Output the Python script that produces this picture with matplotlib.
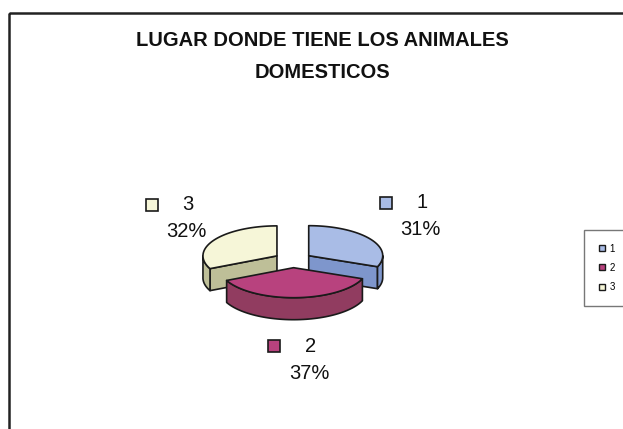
import numpy as np
import matplotlib
matplotlib.use('Agg')
import matplotlib.pyplot as plt
from matplotlib.patches import Polygon, Rectangle
from matplotlib.lines import Line2D

# datos del grafico
categorias = ['1', '2', '3']
porcentajes = [31, 37, 32]
titulo = ['LUGAR DONDE TIENE LOS ANIMALES', 'DOMESTICOS']

color_sup = ['#a9bce6', '#b8427e', '#f6f6d8']
color_lado = ['#7e96cc', '#913c60', '#bebf98']
borde = '#1a1a1a'

plt.rcParams['font.family'] = ['Liberation Sans', 'DejaVu Sans']

fig = plt.figure(figsize=(6.23, 4.29), dpi=100)
ax = fig.add_axes([0, 0, 1, 1])
ax.set_xlim(0, 623)
ax.set_ylim(429, 0)
ax.axis('off')

# marco del area del grafico
ax.add_patch(Rectangle((9, 13), 700, 500, fill=False, lw=1.8,
                       edgecolor='#222222', clip_on=True))

# geometria del pastel 3D (pixeles)
cx, cy = 293, 260
rx, ry = 74, 30
alto = 22
separa = 19


def punto(t, ox, oy, r=1.0, dy=0.0):
    return (cx + ox + rx * r * np.sin(t), cy + oy - ry * r * np.cos(t) + dy)


fr = np.array(porcentajes, dtype=float) / sum(porcentajes)
limites = np.concatenate([[0], np.cumsum(fr)]) * 2 * np.pi

rebanadas = []
for i in range(len(categorias)):
    t0, t1 = limites[i], limites[i + 1]
    tm = (t0 + t1) / 2
    ox = separa * np.sin(tm)
    oy = -separa * (ry / rx) * np.cos(tm)
    rebanadas.append((i, t0, t1, tm, ox, oy))

# dibujar primero las rebanadas del fondo
orden = sorted(rebanadas, key=lambda s: -np.cos(s[3]))

for i, t0, t1, tm, ox, oy in orden:
    ts = np.linspace(t0, t1, 80)
    apice = np.array([cx + ox, cy + oy])
    arco = np.array([punto(t, ox, oy) for t in ts])
    sup = np.vstack([apice, arco])
    centro = sup.mean(axis=0)

    caras = []
    # caras radiales
    for p in (arco[0], arco[-1]):
        d = p - apice
        n = np.array([d[1], -d[0]])
        mid = (p + apice) / 2
        if np.dot(n, mid - centro) < 0:
            n = -n
        if n[1] > 1e-6:
            caras.append(np.array([apice, p, p + [0, alto], apice + [0, alto]]))
    # cara curva frontal
    a, b = max(t0, np.pi / 2), min(t1, 3 * np.pi / 2)
    if b > a:
        tc = np.linspace(a, b, 60)
        curva = np.array([punto(t, ox, oy) for t in tc])
        caras.append(np.vstack([curva, (curva + [0, alto])[::-1]]))

    for c in caras:
        ax.add_patch(Polygon(c, closed=True, facecolor=color_lado[i],
                             edgecolor=borde, lw=1.2, joinstyle='round'))
    ax.add_patch(Polygon(sup, closed=True, facecolor=color_sup[i],
                         edgecolor=borde, lw=1.2, joinstyle='round'))

# etiquetas de datos
for i, t0, t1, tm, ox, oy in rebanadas:
    lx = cx + 12 + 140 * np.sin(tm)
    ly = cy - 78 * np.cos(tm) + (alto if np.cos(tm) < 0 else 0)
    ax.plot(lx - 35, ly - 13.5, marker='s', ms=8, mfc=color_sup[i],
            mec=borde, mew=1.2)
    ax.text(lx + 1, ly - 13.5, categorias[i], fontsize=14.5,
            ha='center', va='center', color='#111111')
    ax.text(lx, ly + 13.5, f'{porcentajes[i]}%', fontsize=14.5,
            ha='center', va='center', color='#111111')

# titulo
ax.text(322, 41, titulo[0], fontsize=14.5, fontweight='bold',
        ha='center', va='center', color='#111111')
ax.text(322, 72, titulo[1], fontsize=14.5, fontweight='bold',
        ha='center', va='center', color='#111111')

# leyenda
manejadores = [Line2D([], [], ls='none', marker='s', ms=5, mfc=c,
                      mec=borde, mew=1.0) for c in color_sup]
fig.legend(manejadores, categorias, loc='upper left',
           bbox_to_anchor=(584 / 623, 1 - 230 / 429), fontsize=7,
           frameon=True, fancybox=False, edgecolor='#555555',
           handlelength=0.8, handletextpad=0.4, labelspacing=0.95,
           borderpad=1.4, borderaxespad=0)

fig.savefig('out.png', dpi=100)
